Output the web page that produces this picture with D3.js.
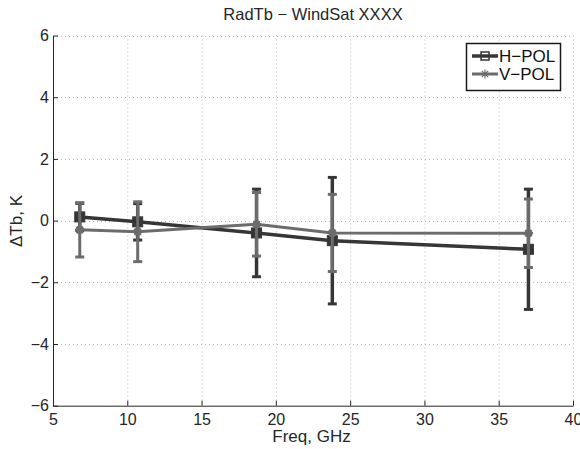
<!DOCTYPE html>
<html>
<head>
<meta charset="utf-8">
<script src="https://cdn.jsdelivr.net/npm/d3@7"></script>
<style>
  html, body { margin: 0; padding: 0; background: #fff; }
  svg { display: block; font-family: "Liberation Sans", Arial, Helvetica, sans-serif; }
</style>
</head>
<body>
<svg id="chart" width="580" height="449"></svg>
<script>
// WindSat channel frequencies (GHz)
const freqs = [6.8, 10.7, 18.7, 23.8, 37.0];

// Mean Tb difference and standard deviation per channel (K)
const hMean = [0.12, -0.04, -0.40, -0.65, -0.93];
const hErr  = [0.44, 0.59, 1.42, 2.05, 1.95];
const vMean = [-0.30, -0.36, -0.12, -0.40, -0.41];
const vErr  = [0.88, 0.97, 1.03, 1.25, 1.11];

const xTicks = [5, 10, 15, 20, 25, 30, 35, 40];
const yTicks = [-6, -4, -2, 0, 2, 4, 6];
const seriesNames = ["H\u2212POL", "V\u2212POL"];

(function () {
  const svg = d3.select("#chart");
  const plotL = 53, plotR = 573, plotT = 35.5, plotB = 405.7;

  const x = d3.scaleLinear().domain([5, 40]).range([plotL, plotR]);
  const y = d3.scaleLinear().domain([-6, 6]).range([plotB, plotT]);

  const axisColor = "#262626";

  // dotted grid
  const grid = svg.append("g").attr("stroke", "#b8b8b8").attr("stroke-width", 1)
    .attr("stroke-dasharray", "1,3");
  grid.selectAll("line.gx").data(xTicks.slice(1)).join("line")
    .attr("x1", d => x(d) + 0.5).attr("x2", d => x(d) + 0.5)
    .attr("y1", plotT).attr("y2", plotB);
  grid.selectAll("line.gy").data(yTicks.slice(1)).join("line")
    .attr("y1", d => Math.round(y(d)) + 0.5).attr("y2", d => Math.round(y(d)) + 0.5)
    .attr("x1", plotL).attr("x2", plotR);

  // axes with inward ticks
  const fmt = d => d < 0 ? "\u2212" + Math.abs(d) : String(d);
  const xAxis = svg.append("g").attr("transform", `translate(0,${plotB})`)
    .call(d3.axisBottom(x).tickValues(xTicks).tickSize(-5).tickSizeOuter(0).tickPadding(8).tickFormat(fmt));
  const yAxis = svg.append("g").attr("transform", `translate(${plotL},0)`)
    .call(d3.axisLeft(y).tickValues(yTicks).tickSize(-5).tickSizeOuter(0).tickPadding(4).tickFormat(fmt));
  [xAxis, yAxis].forEach(a => {
    a.select(".domain").attr("stroke", axisColor);
    a.selectAll(".tick line").attr("stroke", axisColor);
    a.selectAll("text").attr("fill", axisColor).attr("font-size", 16)
      .attr("font-family", "Liberation Sans, Arial, sans-serif");
  });

  // error bar series
  const series = [
    { name: seriesNames[0], mean: hMean, err: hErr, color: "#363636", width: 3.5, marker: "square" },
    { name: seriesNames[1], mean: vMean, err: vErr, color: "#6c6c6c", width: 3, marker: "star" }
  ];

  const starPath = s => {
    const r = s / 2, d = r * Math.SQRT1_2;
    return `M${-r},0L${r},0M0,${-r}L0,${r}M${-d},${-d}L${d},${d}M${-d},${d}L${d},${-d}`;
  };

  function drawMarker(g, kind, cx, cy, color) {
    if (kind === "square") {
      g.append("rect").attr("x", cx - 5).attr("y", cy - 5).attr("width", 10).attr("height", 10)
        .attr("fill", color).attr("stroke", color).attr("stroke-width", 1);
    } else {
      g.append("path").attr("transform", `translate(${cx},${cy})`).attr("d", starPath(9))
        .attr("stroke", color).attr("stroke-width", 2.5).attr("fill", "none");
      g.append("circle").attr("cx", cx).attr("cy", cy).attr("r", 3.5).attr("fill", color);
    }
  }

  series.forEach(s => {
    const g = svg.append("g");
    const pts = freqs.map((f, i) => ({ f, m: s.mean[i], e: s.err[i] }));
    g.selectAll("line.eb").data(pts).join("line")
      .attr("x1", d => x(d.f)).attr("x2", d => x(d.f))
      .attr("y1", d => y(d.m + d.e)).attr("y2", d => y(d.m - d.e))
      .attr("stroke", s.color).attr("stroke-width", s.width);
    [1, -1].forEach(sign => {
      g.selectAll(null).data(pts).join("line")
        .attr("x1", d => x(d.f) - 4.5).attr("x2", d => x(d.f) + 4.5)
        .attr("y1", d => y(d.m + sign * d.e))
        .attr("y2", d => y(d.m + sign * d.e))
        .attr("stroke", s.color).attr("stroke-width", 3);
    });
    g.append("path").datum(pts)
      .attr("d", d3.line().x(d => x(d.f)).y(d => y(d.m)))
      .attr("fill", "none").attr("stroke", s.color).attr("stroke-width", s.width);
    pts.forEach(d => drawMarker(g, s.marker, x(d.f), y(d.m), s.color));
  });

  // title and axis labels
  svg.append("text").attr("x", 313).attr("y", 20).attr("text-anchor", "middle")
    .attr("font-size", 16.5).attr("fill", axisColor).text("RadTb \u2212 WindSat XXXX");
  svg.append("text").attr("x", 311.5).attr("y", 441.5).attr("text-anchor", "middle")
    .attr("font-size", 17).attr("fill", axisColor).text("Freq, GHz");
  svg.append("text").attr("transform", "translate(21.5,221) rotate(-90)").attr("text-anchor", "middle")
    .attr("font-size", 17).attr("fill", axisColor).text("\u0394Tb, K");

  // legend
  const lg = svg.append("g");
  lg.append("rect").attr("x", 466.5).attr("y", 43.5).attr("width", 94).attr("height", 47)
    .attr("fill", "#fff").attr("stroke", "#1a1a1a").attr("stroke-width", 1.5);
  series.forEach((s, i) => {
    const ly = 56 + i * 18;
    lg.append("line").attr("x1", 472).attr("x2", 498).attr("y1", ly).attr("y2", ly)
      .attr("stroke", s.color).attr("stroke-width", s.width);
    if (s.marker === "square") {
      lg.append("rect").attr("x", 481).attr("y", ly - 4).attr("width", 8).attr("height", 8)
        .attr("fill", "none").attr("stroke", s.color).attr("stroke-width", 1.5);
    } else {
      lg.append("path").attr("transform", `translate(485,${ly})`).attr("d", starPath(9))
        .attr("stroke", s.color).attr("stroke-width", 1.2).attr("fill", "none");
    }
    lg.append("text").attr("x", 499).attr("y", ly + 6.2).attr("font-size", 17)
      .attr("fill", "#111").text(s.name);
  });
})();
</script>
</body>
</html>
